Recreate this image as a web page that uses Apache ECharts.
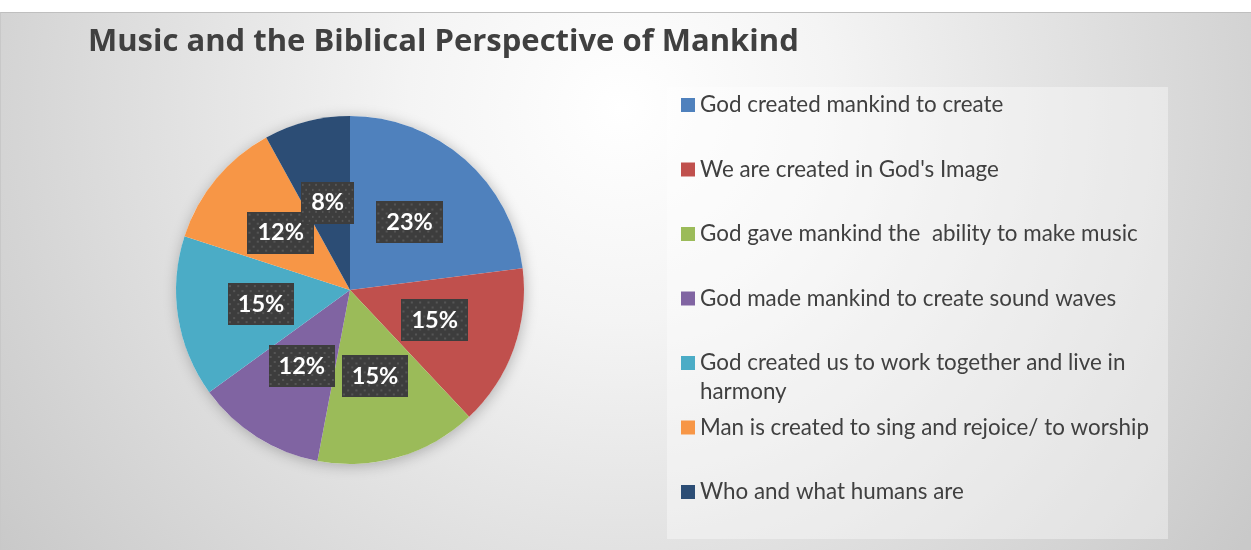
<!DOCTYPE html>
<html>
<head>
<meta charset="utf-8">
<script src="https://cdn.jsdelivr.net/npm/echarts@6/dist/echarts.min.js"></script>
<style>
  html, body { margin: 0; padding: 0; background: #ffffff; }
  #frame {
    position: absolute; left: 0; top: 12px; width: 1250px; height: 537px;
    border-top: 1px solid #bfbfbf; border-left: 1px solid #c8c8c8;
    background: radial-gradient(circle 760px at 620px 95px, #ffffff 0%, #f4f4f4 28%, #dcdcdc 68%, #c9c9c9 100%);
  }
  #chart { position: absolute; left: 0; top: 0; width: 1251px; height: 550px; }
</style>
</head>
<body>
<div id="frame"></div>
<div id="chart"></div>
<script>
// Chart content
const chartTitle = 'Music and the Biblical Perspective of Mankind';
const categories = [
  'God created mankind to create',
  "We are created in God's Image",
  'God gave mankind the  ability to make music',
  'God made mankind to create sound waves',
  'God created us to work together and live in harmony',
  'Man is created to sing and rejoice/ to worship',
  'Who and what humans are'
];
const shares = [23, 15, 15, 12, 15, 12, 8];   // percent of responses
const colors = ['#4F81BD', '#C0504D', '#9BBB59', '#8064A2', '#4BACC6', '#F79646', '#2C4D75'];
// Legend entries that wrap onto a second line
const legendBreaks = { 'God created us to work together and live in harmony': ['God created us to work together and live in', 'harmony'] };

// Dark dotted tile used behind the data labels
function dottedTile(w, h) {
  const c = document.createElement('canvas');
  c.width = w; c.height = h;
  const g = c.getContext('2d');
  g.fillStyle = '#3d3d3d';
  g.fillRect(0, 0, w, h);
  g.fillStyle = '#555555';
  let row = 0;
  for (let y = 2; y < h; y += 4.5, row++) {
    for (let x = (row % 2 ? 5 : 1); x < w; x += 8) g.fillRect(Math.round(x), Math.round(y), 2, 2);
  }
  return c;
}
const labelTile = dottedTile(64, 42);

const chart = echarts.init(document.getElementById('chart'), null, { renderer: 'canvas' });

// One legend block per entry so a wrapped entry keeps the regular row spacing.
// A wrapped entry gets a leading empty line so its first line sits level with the swatch.
const LEGEND_LH = 29;
const legendFirstRow = 105;
const legendRowStep = 64.5;
const legends = categories.map((name, i) => {
  const wrapped = legendBreaks[name];
  const rowCenter = legendFirstRow + i * legendRowStep;
  const boxH = wrapped ? 3 * LEGEND_LH : LEGEND_LH;
  const text = wrapped ? '\n' + wrapped.join('\n') : name;
  return {
    left: 681,
    top: rowCenter - boxH / 2,
    padding: 0,
    orient: 'vertical',
    itemWidth: 14,
    itemHeight: 14,
    icon: 'rect',
    selectedMode: false,
    data: [{ name: name }],
    formatter: () => text,
    textStyle: {
      fontFamily: 'Lato',
      fontSize: 22.4,
      color: '#404040',
      lineHeight: LEGEND_LH
    }
  };
});

chart.setOption({
  animation: false,
  backgroundColor: 'transparent',
  color: colors,
  title: {
    text: chartTitle,
    left: 88,
    top: 26,
    padding: 0,
    textStyle: { fontFamily: 'Open Sans', fontWeight: 'bold', fontSize: 31, color: '#404040', lineHeight: 32 }
  },
  legend: legends,
  graphic: [{
    type: 'rect',
    silent: true,
    z: -1,
    shape: { x: 667, y: 87, width: 501, height: 452 },
    style: { fill: 'rgba(255,255,255,0.38)' }
  }],
  series: [
    {
      // soft shadow under the pie
      type: 'pie',
      silent: true,
      z: 1,
      center: [350, 290],
      radius: 174,
      label: { show: false },
      labelLine: { show: false },
      emphasis: { disabled: true },
      itemStyle: { color: '#ffffff', shadowBlur: 14, shadowColor: 'rgba(0,0,0,0.25)', shadowOffsetX: 1, shadowOffsetY: 2 },
      data: [{ name: '_base', value: 1 }]
    },
    {
      type: 'pie',
      z: 2,
      silent: true,
      center: [350, 290],
      radius: 174,
      startAngle: 90,
      clockwise: true,
      avoidLabelOverlap: false,
      labelLayout: { hideOverlap: false },
      emphasis: { disabled: true },
      labelLine: { show: false },
      label: {
        show: true,
        position: 'inside',
        formatter: p => p.value + '%',
        fontFamily: 'Lato',
        fontWeight: 'bold',
        fontSize: 23.5,
        lineHeight: 24,
        color: '#ffffff',
        padding: [9, 10, 9, 10],
        backgroundColor: { image: labelTile },
        shadowBlur: 5,
        shadowColor: 'rgba(0,0,0,0.55)',
        shadowOffsetX: 2,
        shadowOffsetY: 2
      },
      data: categories.map((name, i) => ({ name: name, value: shares[i], itemStyle: { color: colors[i] } }))
    }
  ]
});
</script>
</body>
</html>
